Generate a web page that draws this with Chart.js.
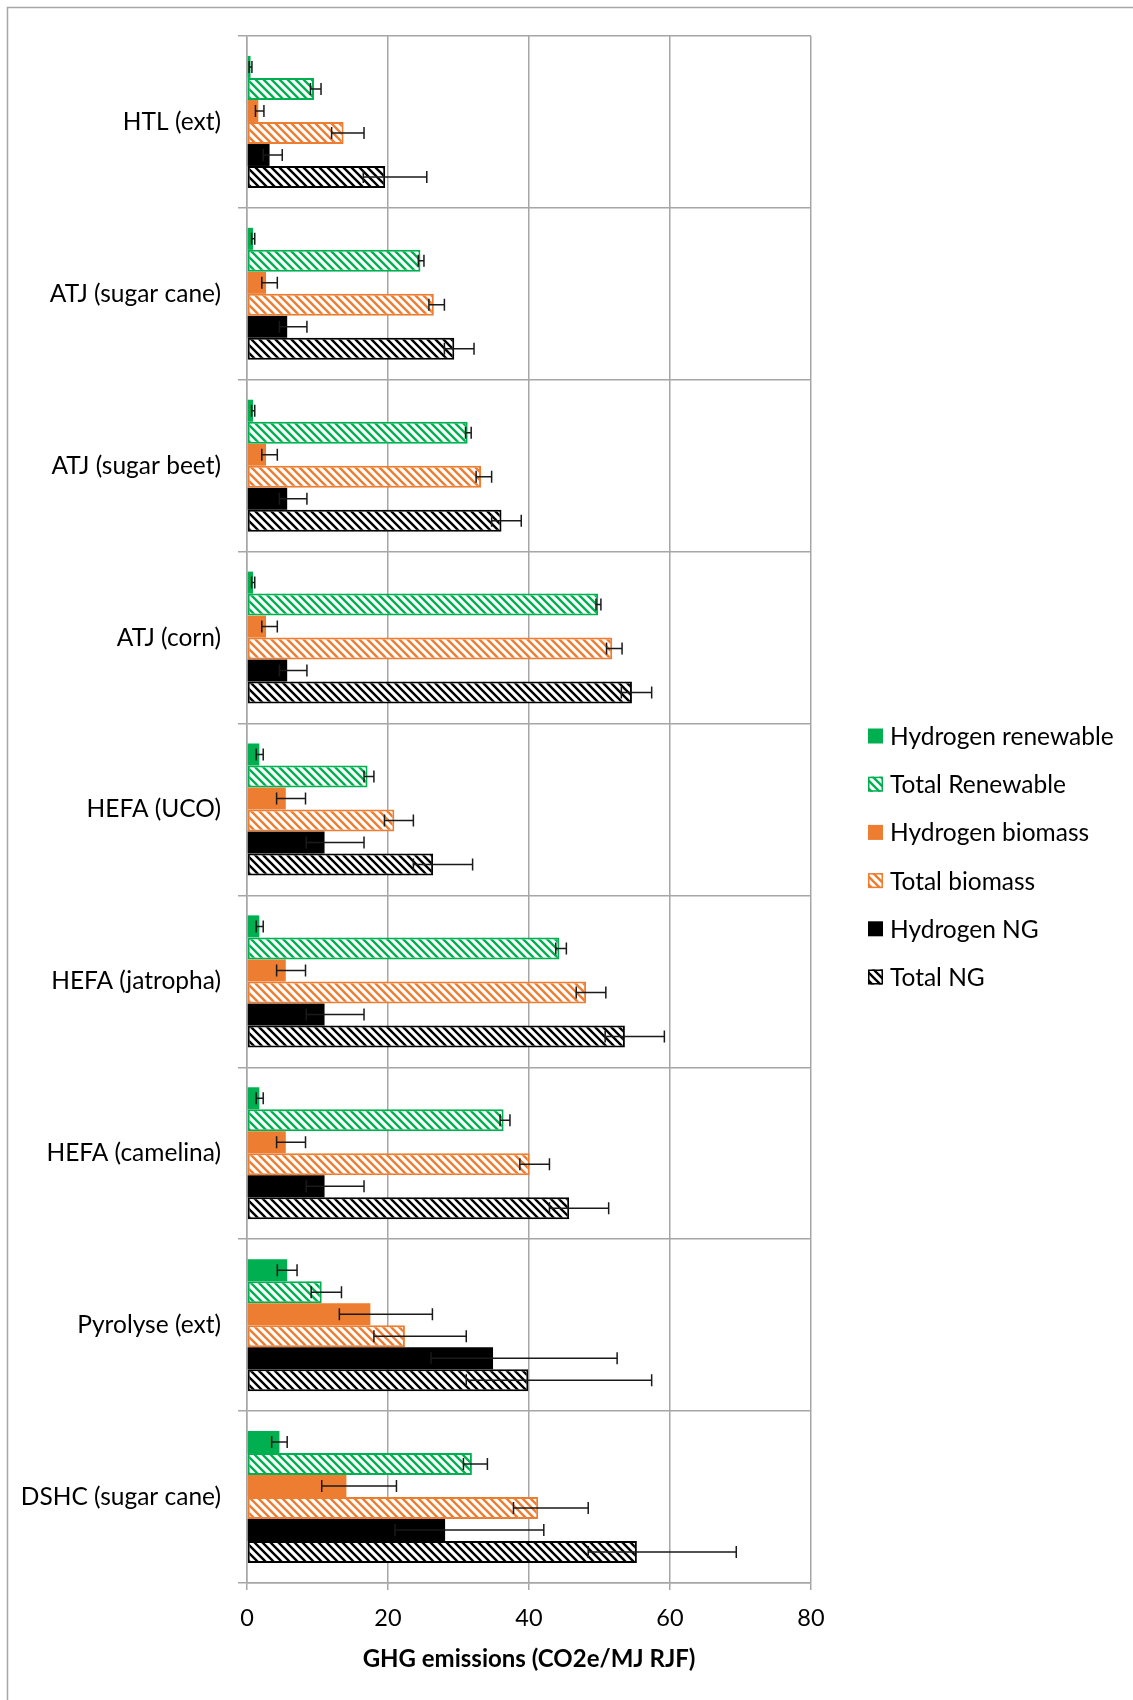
<!DOCTYPE html>
<html>
<head>
<meta charset="utf-8">
<script src="https://cdn.jsdelivr.net/npm/chart.js@4.4.1/dist/chart.umd.min.js"></script>
<style>
  html, body { margin: 0; padding: 0; background: #ffffff; }
  #wrap { position: relative; width: 1133px; height: 1700px; }
</style>
</head>
<body>
<div id="wrap"><canvas id="chart" width="1133" height="1700"></canvas></div>
<script>
// Pathways, top to bottom
const categories = [
  'HTL (ext)', 'ATJ (sugar cane)', 'ATJ (sugar beet)', 'ATJ (corn)',
  'HEFA (UCO)', 'HEFA (jatropha)', 'HEFA (camelina)', 'Pyrolyse (ext)', 'DSHC (sugar cane)'
];

// GHG emissions, g CO2e per MJ of renewable jet fuel, with low / high range
const hydrogenRenewable     = [0.5, 0.85, 0.85, 0.85, 1.75, 1.75, 1.75, 5.7, 4.6];
const hydrogenRenewableLow  = [0.3, 0.65, 0.65, 0.65, 1.3, 1.3, 1.3, 4.3, 3.5];
const hydrogenRenewableHigh = [0.7, 1.1, 1.1, 1.1, 2.3, 2.3, 2.3, 7.1, 5.7];

const totalRenewable     = [9.5, 24.6, 31.3, 49.8, 17.1, 44.3, 36.4, 10.6, 31.9];
const totalRenewableLow  = [9.0, 24.3, 31.0, 49.5, 16.6, 43.8, 35.9, 9.1, 30.7];
const totalRenewableHigh = [10.5, 25.1, 31.8, 50.2, 18.0, 45.3, 37.3, 13.4, 34.1];

const hydrogenBiomass     = [1.6, 2.7, 2.7, 2.7, 5.5, 5.5, 5.5, 17.5, 14.1];
const hydrogenBiomassLow  = [1.2, 2.1, 2.1, 2.1, 4.2, 4.2, 4.2, 13.1, 10.6];
const hydrogenBiomassHigh = [2.4, 4.3, 4.3, 4.3, 8.3, 8.3, 8.3, 26.3, 21.2];

const totalBiomass     = [13.7, 26.5, 33.2, 51.8, 20.9, 48.1, 40.1, 22.4, 41.3];
const totalBiomassLow  = [12.0, 25.8, 32.5, 51.0, 19.5, 46.7, 38.7, 18.0, 37.8];
const totalBiomassHigh = [16.6, 28.0, 34.7, 53.2, 23.6, 50.9, 42.9, 31.1, 48.4];

const hydrogenNG     = [3.2, 5.7, 5.7, 5.7, 11.0, 11.0, 11.0, 34.9, 28.1];
const hydrogenNGLow  = [2.3, 4.6, 4.6, 4.6, 8.4, 8.4, 8.4, 26.1, 21.0];
const hydrogenNGHigh = [5.0, 8.5, 8.5, 8.5, 16.6, 16.6, 16.6, 52.5, 42.1];

const totalNG     = [19.6, 29.4, 36.1, 54.6, 26.4, 53.6, 45.7, 39.9, 55.3];
const totalNGLow  = [16.5, 28.0, 34.7, 53.1, 23.6, 50.8, 42.9, 31.1, 48.4];
const totalNGHigh = [25.5, 32.2, 38.9, 57.4, 32.0, 59.2, 51.3, 57.4, 69.4];

const xTicks = [0, 20, 40, 60, 80];

const GREEN = '#00B050';
const ORANGE = '#ED7D31';
const BLACK = '#000000';
const GRID = '#A6A6A6';
const FONT = 'Lato, "Open Sans", "DejaVu Sans", sans-serif';

// Downward diagonal stripes on white
function hatch(color) {
  const s = 8;
  const c = document.createElement('canvas');
  c.width = s; c.height = s;
  const g = c.getContext('2d');
  g.fillStyle = '#ffffff';
  g.fillRect(0, 0, s, s);
  g.strokeStyle = color;
  g.lineWidth = 2.4;
  g.beginPath();
  g.moveTo(-2, -2); g.lineTo(s + 2, s + 2);
  g.moveTo(s - 2, -2); g.lineTo(s + 2, 2);
  g.moveTo(-2, s - 2); g.lineTo(2, s + 2);
  g.stroke();
  return g.createPattern(c, 'repeat');
}

function solidSeries(label, data, low, high, color) {
  return { label, data, errLow: low, errHigh: high, hatched: false,
           backgroundColor: color, borderColor: color, borderWidth: 0 };
}
function hatchedSeries(label, data, low, high, color) {
  return { label, data, errLow: low, errHigh: high, hatched: true,
           backgroundColor: hatch(color), borderColor: color, borderWidth: 2, borderSkipped: false };
}

// Whisker lines from low to high for every bar
const errorBars = {
  id: 'errorBars',
  afterDatasetsDraw(chart) {
    const ctx = chart.ctx;
    const xs = chart.scales.x;
    ctx.save();
    ctx.strokeStyle = '#1a1a1a';
    ctx.lineWidth = 1.5;
    chart.data.datasets.forEach((ds, i) => {
      const meta = chart.getDatasetMeta(i);
      meta.data.forEach((bar, j) => {
        const y = bar.y;
        const x0 = xs.getPixelForValue(ds.errLow[j]);
        const x1 = xs.getPixelForValue(ds.errHigh[j]);
        ctx.beginPath();
        ctx.moveTo(x0, y); ctx.lineTo(x1, y);
        ctx.moveTo(x0, y - 6); ctx.lineTo(x0, y + 6);
        ctx.moveTo(x1, y - 6); ctx.lineTo(x1, y + 6);
        ctx.stroke();
      });
    });
    ctx.restore();
  }
};

// Frame, white background and the side legend
const LEGEND = { boxX: 868, textX: 890, firstY: 736, step: 48.2, box: 15, size: 24.5 };
const frame = {
  id: 'frame',
  beforeDraw(chart) {
    const ctx = chart.ctx;
    ctx.save();
    ctx.fillStyle = '#ffffff';
    ctx.fillRect(0, 0, chart.width, chart.height);
    ctx.strokeStyle = GRID;
    ctx.lineWidth = 1.5;
    ctx.strokeRect(7.5, 7.5, chart.width + 20, chart.height + 20);
    ctx.restore();
  },
  afterDraw(chart) {
    const ctx = chart.ctx;
    ctx.save();
    ctx.font = LEGEND.size + 'px ' + FONT;
    ctx.textBaseline = 'middle';
    ctx.textAlign = 'left';
    chart.data.datasets.forEach((ds, i) => {
      const cy = LEGEND.firstY + i * LEGEND.step;
      const bx = LEGEND.boxX, by = cy - LEGEND.box / 2;
      ctx.fillStyle = ds.backgroundColor;
      ctx.fillRect(bx, by, LEGEND.box, LEGEND.box);
      if (ds.hatched) {
        ctx.strokeStyle = ds.borderColor;
        ctx.lineWidth = 1.5;
        ctx.strokeRect(bx + 0.75, by + 0.75, LEGEND.box - 1.5, LEGEND.box - 1.5);
      }
      ctx.fillStyle = '#000000';
      ctx.fillText(ds.label, LEGEND.textX, cy + 1);
    });
    ctx.restore();
  }
};

new Chart(document.getElementById('chart'), {
  type: 'bar',
  data: {
    labels: categories,
    datasets: [
      solidSeries('Hydrogen renewable', hydrogenRenewable, hydrogenRenewableLow, hydrogenRenewableHigh, GREEN),
      hatchedSeries('Total Renewable', totalRenewable, totalRenewableLow, totalRenewableHigh, GREEN),
      solidSeries('Hydrogen biomass', hydrogenBiomass, hydrogenBiomassLow, hydrogenBiomassHigh, ORANGE),
      hatchedSeries('Total biomass', totalBiomass, totalBiomassLow, totalBiomassHigh, ORANGE),
      solidSeries('Hydrogen NG', hydrogenNG, hydrogenNGLow, hydrogenNGHigh, BLACK),
      hatchedSeries('Total NG', totalNG, totalNGLow, totalNGHigh, BLACK)
    ]
  },
  options: {
    indexAxis: 'y',
    responsive: false,
    maintainAspectRatio: false,
    animation: false,
    events: [],
    layout: { padding: { top: 36, right: 322, bottom: 0, left: 0 } },
    datasets: { bar: { categoryPercentage: 0.768, barPercentage: 1.0 } },
    plugins: { legend: { display: false }, tooltip: { enabled: false } },
    scales: {
      x: {
        type: 'linear',
        min: xTicks[0],
        max: xTicks[xTicks.length - 1],
        afterBuildTicks(scale) { scale.ticks = xTicks.map(v => ({ value: v })); },
        ticks: { color: '#000000', font: { family: FONT, size: 23.5 }, padding: 14 },
        grid: { color: GRID, lineWidth: 1.5, tickLength: 7 },
        border: { display: true, color: GRID, width: 1.5 },
        title: {
          display: true,
          text: 'GHG emissions (CO2e/MJ RJF)',
          color: '#000000',
          font: { family: FONT, size: 24, weight: 'bold' },
          padding: { top: 0, bottom: 26 }
        },
        afterFit(scale) { scale.height = 117; }
      },
      y: {
        type: 'category',
        grid: { offset: true, color: GRID, lineWidth: 1.5, tickLength: 9 },
        border: { display: true, color: GRID, width: 1.5 },
        ticks: { color: '#000000', font: { family: FONT, size: 24.5 }, padding: 17, autoSkip: false },
        afterFit(scale) { scale.width = 247; }
      }
    }
  },
  plugins: [frame, errorBars]
});
</script>
</body>
</html>
